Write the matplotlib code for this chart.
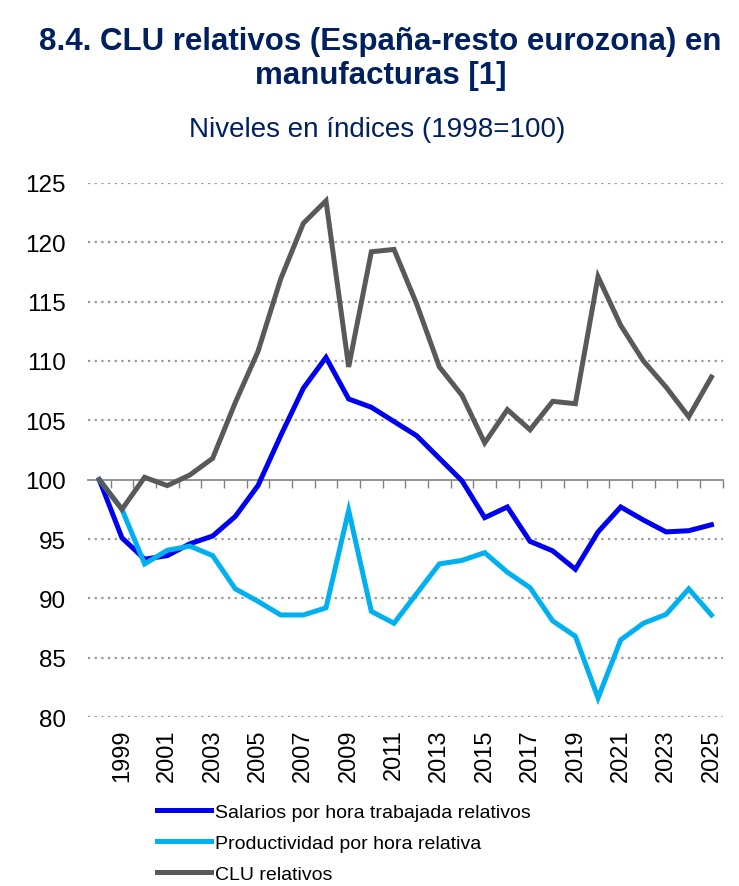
import matplotlib
matplotlib.use("Agg")
import matplotlib.pyplot as plt
import numpy as np

plt.rcParams['font.family'] = ['Liberation Sans', 'DejaVu Sans']

years = list(range(1998, 2026))

salarios = [100.0, 95.1, 93.3, 93.6, 94.6, 95.25, 96.9, 99.5, 103.7, 107.7,
            110.3, 106.8, 106.1, 104.9, 103.7, 101.8, 99.9, 96.8, 97.7, 94.8,
            94.0, 92.45, 95.6, 97.7, 96.6, 95.6, 95.7, 96.2]

productividad = [100.0, 97.5, 92.9, 94.05, 94.4, 93.6, 90.8, 89.75, 88.6, 88.6,
                 89.2, 97.4, 88.9, 87.9, 90.4, 92.9, 93.2, 93.85, 92.2, 90.9,
                 88.1, 86.8, 81.6, 86.5, 87.9, 88.65, 90.8, 88.6]

clu = [100.0, 97.5, 100.2, 99.5, 100.4, 101.8, 106.5, 110.8, 116.9, 121.6,
       123.5, 109.5, 119.2, 119.4, 114.8, 109.5, 107.1, 103.1, 105.9, 104.2,
       106.6, 106.4, 117.1, 113.0, 110.0, 107.8, 105.3, 108.65]

series_labels = ["Salarios por hora trabajada relativos",
                 "Productividad por hora relativa",
                 "CLU relativos"]
series_colors = ["#0000F0", "#00B0F0", "#595959"]

y_ticks = [80, 85, 90, 95, 100, 105, 110, 115, 120, 125]
x_label_years = list(range(1999, 2026, 2))

title = "8.4. CLU relativos (España-resto eurozona) en\nmanufacturas [1]"
subtitle = "Niveles en índices (1998=100)"
navy = "#002060"

fig = plt.figure(figsize=(7.39, 8.87), dpi=100)
ax = fig.add_axes([0.119, 0.1905, 0.859, 0.6021])

# dotted horizontal gridlines (the 100 level carries the category axis)
for yv in y_ticks:
    if yv != 100:
        ax.axhline(yv, color="#999999", lw=1.6, ls=(0, (1, 2.0)), zorder=1)

lines = []
for vals, lab, col in zip([salarios, productividad, clu], series_labels, series_colors):
    ln, = ax.plot(years, vals, color=col, lw=3.6, label=lab, zorder=3,
                  solid_joinstyle='miter')
    lines.append(ln)

ax.set_xlim(1997.5, 2025.5)
ax.set_ylim(80, 125)

for s in ['top', 'right', 'left']:
    ax.spines[s].set_visible(False)
ax.spines['bottom'].set_position(('data', 100))
ax.spines['bottom'].set_color("#808080")
ax.spines['bottom'].set_linewidth(1.2)
ax.spines['bottom'].set_zorder(2)

ax.set_xticks(np.arange(1998.5, 2025.6, 1.0))
ax.tick_params(axis='x', direction='out', length=6, width=1.0, color="#808080",
               labelbottom=False)

ax.set_yticks(y_ticks)
ax.set_yticklabels([str(v) for v in y_ticks])
ax.tick_params(axis='y', length=0, pad=16, labelsize=17.5, labelcolor='black')

# year labels along the bottom of the plot area
sec = ax.secondary_xaxis('bottom')
sec.set_xticks(x_label_years)
sec.set_xticklabels([str(y) for y in x_label_years], rotation=90)
sec.tick_params(axis='x', length=0, pad=8, labelsize=17)
sec.spines['bottom'].set_visible(False)

fig.text(0.515, 0.970, title, ha='center', va='top', fontsize=22.5,
         fontweight='bold', color=navy, linespacing=1.2)
fig.text(0.51, 0.854, subtitle, ha='center', va='center', fontsize=20,
         color=navy)

fig.legend(handles=lines, labels=series_labels, loc='upper left',
           bbox_to_anchor=(0.2125, 0.093), frameon=False, fontsize=14,
           handlelength=2.8, handletextpad=0.2, labelspacing=0.68,
           borderaxespad=0, borderpad=0)

fig.savefig("out.png", dpi=100)
